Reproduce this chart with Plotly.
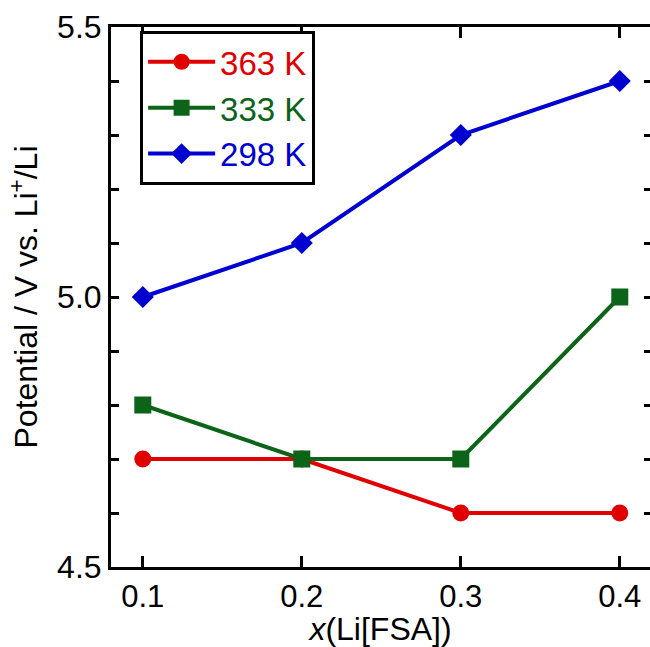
import plotly.graph_objects as go

# Li[FSA] mole fraction and onset potentials at three temperatures
x_li = [0.1, 0.2, 0.3, 0.4]
pot_363 = [4.7, 4.7, 4.6, 4.6]
pot_333 = [4.8, 4.7, 4.7, 5.0]
pot_298 = [5.0, 5.1, 5.3, 5.4]

x_ticks = [0.1, 0.2, 0.3, 0.4]
x_labels = ["0.1", "0.2", "0.3", "0.4"]
y_ticks = [4.5, 5.0, 5.5]
y_labels = ["4.5", "5.0", "5.5"]
y_minor = [4.6, 4.7, 4.8, 4.9, 5.1, 5.2, 5.3, 5.4]

RED = "#e00000"
GREEN = "#0b6418"
BLUE = "#0000d0"
FONT = "Liberation Sans, Arial, sans-serif"

series = [
    ("363 K", pot_363, RED, "circle", 17),
    ("333 K", pot_333, GREEN, "square", 17),
    ("298 K", pot_298, BLUE, "diamond", 17),
]

fig = go.Figure()
for name, vals, color, symbol, size in series:
    fig.add_trace(go.Scatter(
        x=x_li, y=vals, mode="lines+markers",
        name=f"<span style='color:{color}'>{name}</span>",
        line=dict(color=color, width=4),
        marker=dict(symbol=symbol, size=size, color=color, line=dict(width=0)),
    ))

# right-hand tick marks without a frame line
fig.add_trace(go.Scatter(x=[None], y=[None], yaxis="y2", showlegend=False, hoverinfo="skip"))

fig.update_layout(
    width=650, height=647,
    margin=dict(l=111, r=0, t=27, b=80),
    paper_bgcolor="white", plot_bgcolor="white",
    font=dict(family=FONT, size=32, color="black"),
    showlegend=True,
    legend=dict(
        x=0.054, y=0.993, xanchor="left", yanchor="top",
        bgcolor="white", bordercolor="black", borderwidth=3,
        font=dict(family=FONT, size=33),
        itemwidth=67,
        tracegroupgap=0,
    ),
    xaxis=dict(
        range=[0.08, 0.419],
        tickvals=x_ticks, ticktext=x_labels,
        ticks="inside", ticklen=11, tickwidth=3, tickcolor="black",
        showline=True, linewidth=3, linecolor="black", mirror="ticks",
        showgrid=False, zeroline=False,
        tickfont=dict(size=31),
        title=dict(text="<i>x</i>(Li[FSA])", font=dict(size=32), standoff=7),
    ),
    yaxis=dict(
        range=[4.5, 5.5],
        tickvals=y_ticks, ticktext=y_labels,
        ticks="inside", ticklen=8, tickwidth=3, tickcolor="black",
        minor=dict(tickvals=y_minor, ticks="inside", ticklen=8, tickwidth=3,
                   tickcolor="black", showgrid=False),
        showline=True, linewidth=3, linecolor="black", mirror=False,
        showgrid=False, zeroline=False,
        tickfont=dict(size=32),
        title=dict(text="Potential / V vs. Li<sup>+</sup>/Li", font=dict(size=32), standoff=10),
    ),
    yaxis2=dict(
        range=[4.5, 5.5], overlaying="y", side="right",
        tickvals=y_ticks + y_minor, showticklabels=False,
        ticks="inside", ticklen=6, tickwidth=3, tickcolor="black",
        showline=False, showgrid=False, zeroline=False,
    ),
)

fig.write_html("out.html")
